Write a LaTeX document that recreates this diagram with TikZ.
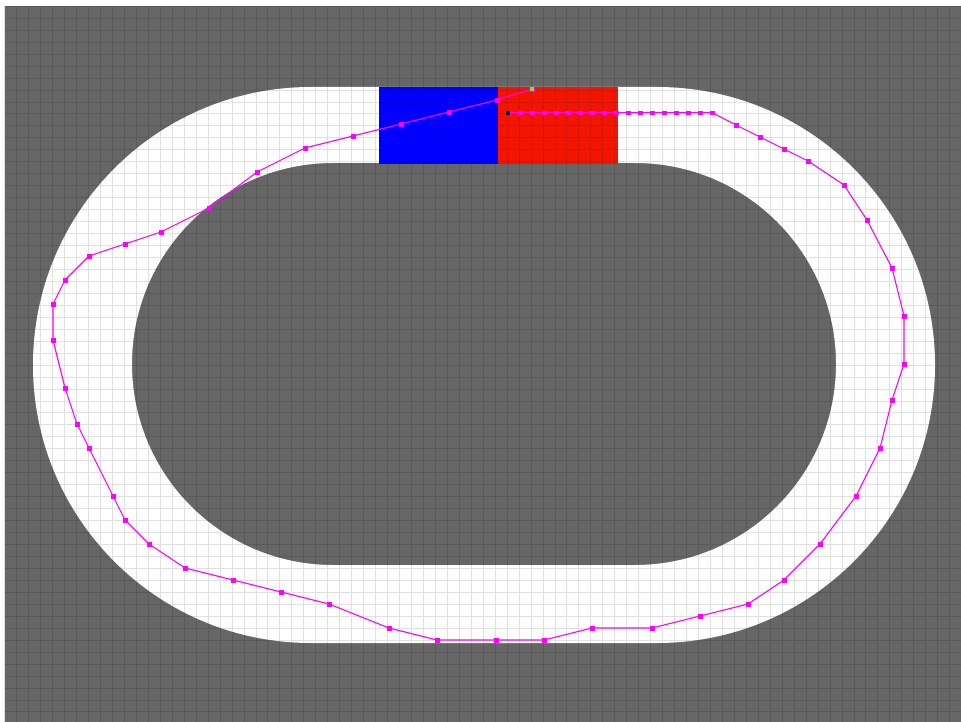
\documentclass[tikz,border=0pt]{standalone}
\usetikzlibrary{plotmarks}
\definecolor{ground}{RGB}{102,102,102}
\definecolor{startred}{RGB}{242,22,0}
\definecolor{goalgrn}{RGB}{140,225,20}
\definecolor{route}{RGB}{255,0,255}
\tikzset{
  cell/.style={black, opacity=0.12, line width=0.9pt},
  trk/.style={fill=white, even odd rule},
  pth/.style={route, line width=1.1pt, mark=square*, mark size=1.8pt, mark options={line width=0.4pt}},
  wpt/.style={rectangle, inner sep=0pt, minimum size=4pt, draw=none}
}

\begin{document}
\begin{tikzpicture}[x=1pt, y=-1pt]
	\useasboundingbox (0,0) rectangle (961,722);
	\fill[white] (0,0) rectangle (961,722);
	\fill[ground] (5,6) rectangle (961,722);
	% track: outer stadium minus inner stadium
	\fill[trk] (311,87) -- (657,87) arc[start angle=-90, end angle=90, radius=278] -- (311,643) arc[start angle=90, end angle=270, radius=278] -- cycle
		(333,163) -- (635,163) arc[start angle=-90, end angle=90, radius=201] -- (333,565) arc[start angle=90, end angle=270, radius=201] -- cycle;
	% start and finish zones
	\fill[blue] (379,87) rectangle (498,164);
	\fill[startred] (498,87) rectangle (618,164);
	% map cells
	\draw[cell] foreach \i in {0,...,80} {(4.8+11.96*\i,6) -- ++(0,716)} foreach \j in {0,...,60} {(5,6.3+11.96*\j) -- ++(956,0)};
	% driven path
	\draw[pth] plot coordinates {(508.3,112.7) (520.3,112.7) (532.3,112.7) (544.3,112.7) (556.3,112.7) (568.3,112.7) (580.3,112.7) (592.3,112.7) (604.3,112.7) (616.3,112.7) (628.3,112.7) (640.3,112.7) (652.3,112.7) (664.3,112.7) (676.3,112.7) (688.3,112.7) (700.3,112.7) (712.3,112.7)
		(736,125) (760,137) (784,149) (808,161) (844,185) (867,220) (892,268) (904,316) (904,364) (892,400) (880,448) (856,496) (820,544) (784,580) (748,604) (700,616) (652,628) (592,628) (544,640) (496,640) (437,640) (389,628) (329,604) (281,592) (233,580) (185,568) (149,544) (125,520) (113,496) (89,448) (77,424) (65,388) (53,340) (53,304) (65,280) (89,256) (125,244) (161,232) (209,208) (257,172) (305,148) (353,136) (401,124) (449,112) (497,100) (532.3,89)};
	\node[wpt, fill=black] (start) at (508.3,112.7) {};
	\node[wpt, fill=goalgrn] (goal) at (532.3,89) {};
\end{tikzpicture}
\end{document}
